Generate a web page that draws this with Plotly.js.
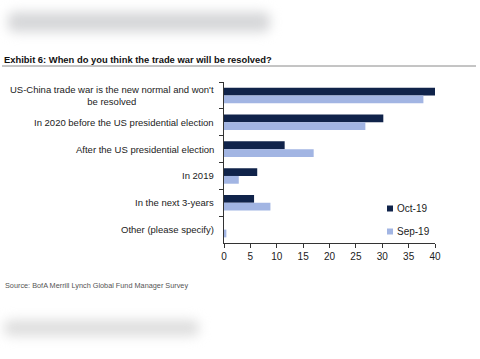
<!DOCTYPE html>
<html>
<head>
<meta charset="utf-8">
<script src="https://cdn.plot.ly/plotly-3.0.1.min.js"></script>
<style>
  html, body { margin: 0; padding: 0; background: #fff; }
  #wrap { position: relative; width: 480px; height: 359px; overflow: hidden; background: #fff; }
  .blob { position: absolute; background: #d6d7d9; filter: blur(6px); border-radius: 6px; }
  #chart { position: absolute; left: 0; top: 0; width: 480px; height: 359px; }
</style>
</head>
<body>
<div id="wrap">
  <div class="blob" style="left:8px; top:12px; width:262px; height:20px;"></div>
  <div class="blob" style="left:4px; top:320px; width:195px; height:16px; background:#dedede;"></div>
  <div id="chart"></div>
</div>
<script>
const categories = [
  "US-China trade war is the new normal and won't<br>be resolved",
  "In 2020 before the US presidential election",
  "After the US presidential election",
  "In 2019",
  "In the next 3-years",
  "Other (please specify)"
];
const seriesNames = ["Oct-19", "Sep-19"];
const oct19 = [40.0, 30.2, 11.5, 6.3, 5.7, 0];
const sep19 = [37.8, 26.8, 17.0, 2.8, 8.8, 0.45];
const xTicks = [0, 5, 10, 15, 20, 25, 30, 35, 40];
const titleText = "Exhibit 6: When do you think the trade war will be resolved?";
const sourceText = "Source: BofA Merrill Lynch Global Fund Manager Survey";

const font = "Liberation Sans, Arial, sans-serif";

const traces = [
  { type: 'bar', orientation: 'h', name: seriesNames[0], x: oct19, y: categories,
    marker: { color: '#10234a' }, legendgroup: 'a' },
  { type: 'bar', orientation: 'h', name: seriesNames[1], x: sep19, y: categories,
    marker: { color: '#a2b5e3' }, legendgroup: 'b' }
];

const H = 359, T = 82, B = 116, PH = H - T - B;
const L = 224, R = 45, PW = 480 - L - R;
function px(x) { return (x - L) / PW; }
function py(y) { return (H - B - y) / PH; }

const annotations = categories.map(c => ({
  text: c, x: 0, xref: 'paper', xanchor: 'right', xshift: -8,
  y: c, yref: 'y', yanchor: 'middle', showarrow: false, align: 'center',
  font: { family: font, size: 9.5, color: '#222' }
}));
annotations.push({
  text: '<b>' + titleText + '</b>', x: px(2), xref: 'paper', xanchor: 'left',
  y: py(59), yref: 'paper', yanchor: 'middle', showarrow: false,
  font: { family: font, size: 9.4, color: '#111' }
});
annotations.push({
  text: sourceText, x: px(3), xref: 'paper', xanchor: 'left',
  y: py(285), yref: 'paper', yanchor: 'middle', showarrow: false,
  font: { family: font, size: 7.3, color: '#555' }
});

const layout = {
  width: 480, height: 359,
  margin: { l: L, r: R, t: T, b: B, pad: 0 },
  paper_bgcolor: 'rgba(0,0,0,0)', plot_bgcolor: 'rgba(0,0,0,0)',
  barmode: 'group', bargap: 0.42, bargroupgap: 0,
  showlegend: true,
  legend: {
    x: px(357), y: py(194), xanchor: 'left', yanchor: 'top',
    bgcolor: 'rgba(0,0,0,0)', tracegroupgap: 4, itemwidth: 30,
    font: { family: font, size: 10, color: '#222' }
  },
  xaxis: {
    range: [0, 40], tickvals: xTicks, ticktext: xTicks.map(String),
    showgrid: false, zeroline: false, showline: true, linecolor: '#333', linewidth: 1,
    ticks: 'outside', ticklen: 4, tickcolor: '#333',
    tickfont: { family: font, size: 10, color: '#222' }
  },
  yaxis: {
    type: 'category', autorange: 'reversed', showticklabels: false,
    showgrid: false, zeroline: false, showline: true, linecolor: '#333', linewidth: 1,
    ticks: 'outside', ticklen: 4, tickcolor: '#333', tickson: 'boundaries'
  },
  shapes: [
    { type: 'line', xref: 'paper', yref: 'paper', x0: px(2), x1: px(476), y0: py(66), y1: py(66),
      line: { color: '#8a8a8a', width: 1 } }
  ],
  annotations: annotations
};

Plotly.newPlot('chart', traces, layout, { staticPlot: true, displayModeBar: false }).then(() => {
  document.querySelectorAll('#chart .legendpoints path').forEach(p => {
    p.setAttribute('d', 'M16,3H10V-3H16Z');
  });
});
</script>
</body>
</html>
